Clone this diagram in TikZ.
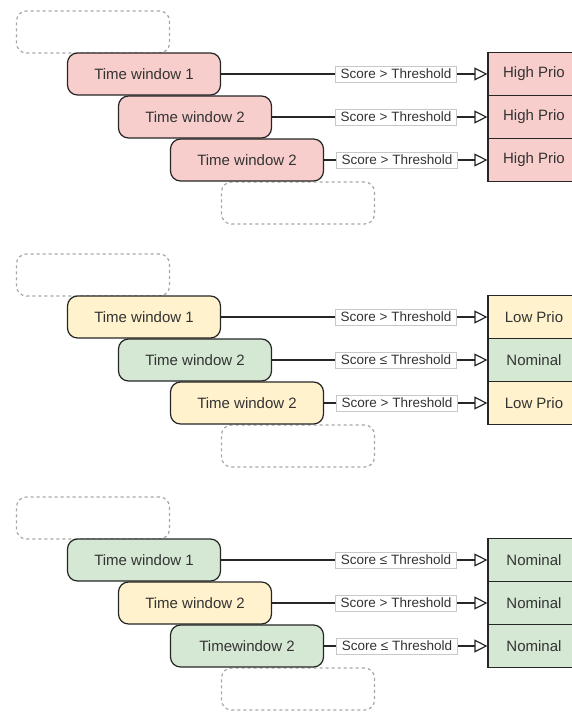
\documentclass[tikz,border=0pt]{standalone}
\usepackage{fontspec}
\setmainfont{Liberation Sans}
\usetikzlibrary{arrows.meta, positioning}
\definecolor{redfill}{HTML}{F8CECC}
\definecolor{yellowfill}{HTML}{FFF2CC}
\definecolor{greenfill}{HTML}{D5E8D4}
\definecolor{edge}{HTML}{262626}
\definecolor{textmain}{HTML}{333333}
\definecolor{ghost}{HTML}{A6A6A6}
\definecolor{lblborder}{HTML}{C8C8C8}
\tikzset{
    window/.style={
        rectangle, rounded corners=10pt, draw=edge, line width=1.2pt,
        text=textmain, font=\fontsize{15}{18}\selectfont,
        minimum width=153pt, minimum height=42pt, inner sep=0pt
    },
    ghostbox/.style={
        rectangle, rounded corners=10pt, draw=ghost, dashed, line width=1.2pt,
        minimum width=153pt, minimum height=42pt, inner sep=0pt
    },
    prio/.style={
        rectangle, draw=edge, line width=1.2pt, text=textmain,
        font=\fontsize{15}{18}\selectfont,
        minimum width=92pt, minimum height=43pt, inner sep=0pt
    },
    scorelbl/.style={
        rectangle, draw=lblborder, fill=white, line width=0.8pt, text=textmain,
        font=\fontsize{13.5}{16}\selectfont, inner xsep=5.5pt, inner ysep=3pt
    },
    link/.style={draw=edge, line width=1.2pt},
    arrow/.style={-{Triangle[open, length=13pt, width=13pt, line width=1.2pt]}, draw=edge, line width=1.2pt}
}
\begin{document}
\begin{tikzpicture}[x=1pt, y=-1pt]
    \useasboundingbox (0,0) rectangle (572,713);
    \clip (0,0) rectangle (572,713);

    % first block: all high priority
    \node[ghostbox] (gtopa) at (93,32) {};
    \node[ghostbox] (gbota) at (298,203) {};
    \node[window, fill=redfill] (win1a) at (144,74) {Time window 1};
    \node[window, fill=redfill] (win2a) at (195,117) {Time window 2};
    \node[window, fill=redfill] (win3a) at (247,160) {Time window 2};
    \node[prio, fill=redfill] (prio1a) at (534,74) {High Prio};
    \node[prio, fill=redfill] (prio2a) at (534,117) {High Prio};
    \node[prio, fill=redfill] (prio3a) at (534,160) {High Prio};
    \node[scorelbl] (lbl1a) at (396,74) {Score > Threshold};
    \node[scorelbl] (lbl2a) at (396,117) {Score > Threshold};
    \node[scorelbl] (lbl3a) at (397,160) {Score > Threshold};
    \draw[link] (win1a) -- (lbl1a);
    \draw[link] (win2a) -- (lbl2a);
    \draw[link] (win3a) -- (lbl3a);
    \draw[arrow] (lbl1a) -- (prio1a);
    \draw[arrow] (lbl2a) -- (prio2a);
    \draw[arrow] (lbl3a) -- (prio3a);

    % second block: mixed
    \node[ghostbox] (gtopb) at (93,275) {};
    \node[ghostbox] (gbotb) at (298,446) {};
    \node[window, fill=yellowfill] (win1b) at (144,317) {Time window 1};
    \node[window, fill=greenfill] (win2b) at (195,360) {Time window 2};
    \node[window, fill=yellowfill] (win3b) at (247,403) {Time window 2};
    \node[prio, fill=yellowfill] (prio1b) at (534,317) {Low Prio};
    \node[prio, fill=greenfill] (prio2b) at (534,360) {Nominal};
    \node[prio, fill=yellowfill] (prio3b) at (534,403) {Low Prio};
    \node[scorelbl] (lbl1b) at (396,317) {Score > Threshold};
    \node[scorelbl] (lbl2b) at (396,360) {Score ≤ Threshold};
    \node[scorelbl] (lbl3b) at (397,403) {Score > Threshold};
    \draw[link] (win1b) -- (lbl1b);
    \draw[link] (win2b) -- (lbl2b);
    \draw[link] (win3b) -- (lbl3b);
    \draw[arrow] (lbl1b) -- (prio1b);
    \draw[arrow] (lbl2b) -- (prio2b);
    \draw[arrow] (lbl3b) -- (prio3b);

    % third block: all nominal
    \node[ghostbox] (gtopc) at (93,518) {};
    \node[ghostbox] (gbotc) at (298,689) {};
    \node[window, fill=greenfill] (win1c) at (144,560) {Time window 1};
    \node[window, fill=yellowfill] (win2c) at (195,603) {Time window 2};
    \node[window, fill=greenfill] (win3c) at (247,646) {Timewindow 2};
    \node[prio, fill=greenfill] (prio1c) at (534,560) {Nominal};
    \node[prio, fill=greenfill] (prio2c) at (534,603) {Nominal};
    \node[prio, fill=greenfill] (prio3c) at (534,646) {Nominal};
    \node[scorelbl] (lbl1c) at (396,560) {Score ≤ Threshold};
    \node[scorelbl] (lbl2c) at (396,603) {Score > Threshold};
    \node[scorelbl] (lbl3c) at (397,646) {Score ≤ Threshold};
    \draw[link] (win1c) -- (lbl1c);
    \draw[link] (win2c) -- (lbl2c);
    \draw[link] (win3c) -- (lbl3c);
    \draw[arrow] (lbl1c) -- (prio1c);
    \draw[arrow] (lbl2c) -- (prio2c);
    \draw[arrow] (lbl3c) -- (prio3c);
\end{tikzpicture}
\end{document}
